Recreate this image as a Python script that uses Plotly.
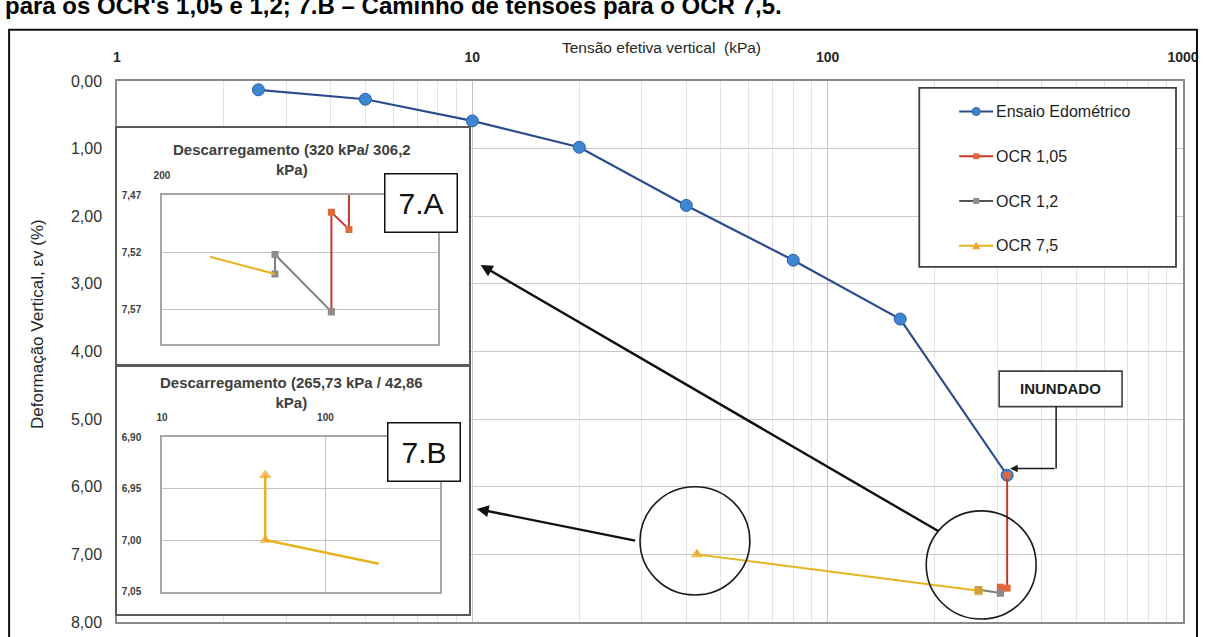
import plotly.graph_objects as go
import math

# ---------------- data ----------------
edo_x = [2.5, 5, 10, 20, 40, 80, 160, 320]
edo_y = [0.13, 0.27, 0.59, 0.98, 1.84, 2.65, 3.52, 5.83]

ocr105_x = [320, 320, 306.2, 306.2]
ocr105_y = [5.83, 7.50, 7.485, 7.572]

ocr12_x = [306.2, 265.73, 265.73]
ocr12_y = [7.572, 7.522, 7.539]

ocr75_x = [265.73, 42.86, 42.86]
ocr75_y = [7.539, 7.00, 6.937]

# detail 7.A (unloading 320 -> 306,2 kPa), OCR 7,5 branch
detA_ocr75_x = [265.73, 225.7]
detA_ocr75_y = [7.539, 7.524]

# detail 7.B (unloading 265,73 -> 42,86 kPa)
detB_ocr75_x = [212, 42.86, 42.86]
detB_ocr75_y = [7.023, 7.00, 6.937]

main_xticks = [1, 10, 100, 1000]
main_xticktext = ["1", "10", "100", "1000"]
main_yticks = [0, 1, 2, 3, 4, 5, 6, 7, 8]
main_yticktext = ["0,00", "1,00", "2,00", "3,00", "4,00", "5,00", "6,00", "7,00", "8,00"]
minor_x = [m * d for d in (1, 10, 100) for m in range(2, 10)]

detA_xticks = [200]
detA_xticktext = ["200"]
detA_yticks = [7.47, 7.52, 7.57]
detA_yticktext = ["7,47", "7,52", "7,57"]

detB_xticks = [10, 100]
detB_xticktext = ["10", "100"]
detB_yticks = [6.90, 6.95, 7.00, 7.05]
detB_yticktext = ["6,90", "6,95", "7,00", "7,05"]

series_names = ["Ensaio Edométrico", "OCR 1,05", "OCR 1,2", "OCR 7,5"]

# ---------------- styling ----------------
FONT = "Liberation Sans, Arial, sans-serif"
C_BLUE_LINE = "#2B4D8E"
C_BLUE_MK = "#3E86D2"
C_RED = "#C33A2A"
C_RED_MK = "#E2673B"
C_GRAY = "#7F7F7F"
C_GRAY_MK = "#8C8C8C"
C_YEL = "#E6B420"
C_YEL_MK = "#F0A22C"

W, H = 1205, 637
PL, PR, PT, PB = 117, 1184, 81, 631   # main plot area in pixels


def fx(px):
    return (px - PL) / (PR - PL)


def fy(py):
    return (PB - py) / (PB - PT)


def label(px, py, text, size, color="#262626", bold=False, xanchor="center", **extra):
    font = dict(family=FONT, size=size, color=color)
    if bold:
        font["weight"] = "bold"
    d = dict(xref="paper", yref="paper", x=fx(px), y=fy(py), text=text, showarrow=False,
             xanchor=xanchor, yanchor="middle", font=font)
    d.update(extra)
    return d


fig = go.Figure()

# ---- main chart series ----
fig.add_trace(go.Scatter(
    x=edo_x, y=edo_y, mode="lines+markers", name=series_names[0],
    line=dict(color=C_BLUE_LINE, width=2.2),
    marker=dict(symbol="circle", size=12, color=C_BLUE_MK, line=dict(color="#2A62A8", width=1)),
    xaxis="x", yaxis="y", showlegend=False))
fig.add_trace(go.Scatter(
    x=ocr105_x, y=ocr105_y, mode="lines+markers", name=series_names[1],
    line=dict(color=C_RED, width=2),
    marker=dict(symbol="square", size=7, color=C_RED_MK),
    xaxis="x", yaxis="y", showlegend=False))
fig.add_trace(go.Scatter(
    x=ocr12_x, y=ocr12_y, mode="lines+markers", name=series_names[2],
    line=dict(color=C_GRAY, width=2),
    marker=dict(symbol="square", size=7, color=C_GRAY_MK),
    xaxis="x", yaxis="y", showlegend=False))
fig.add_trace(go.Scatter(
    x=ocr75_x, y=ocr75_y, mode="lines+markers", name=series_names[3],
    line=dict(color=C_YEL, width=2),
    marker=dict(symbol=["square", "triangle-up", "triangle-up"], size=[8, 10, 0], color=C_YEL_MK),
    xaxis="x", yaxis="y", showlegend=False))

# ---- empty framing subplots (white boxes behind the details) ----
fig.add_trace(go.Scatter(x=[], y=[], xaxis="x2", yaxis="y2", showlegend=False))
fig.add_trace(go.Scatter(x=[], y=[], xaxis="x3", yaxis="y3", showlegend=False))

# ---- detail 7.A ----
fig.add_trace(go.Scatter(
    x=ocr105_x, y=ocr105_y, mode="lines+markers",
    line=dict(color=C_RED, width=2),
    marker=dict(symbol="square", size=7, color=C_RED_MK),
    xaxis="x4", yaxis="y4", showlegend=False))
fig.add_trace(go.Scatter(
    x=ocr12_x, y=ocr12_y, mode="lines+markers",
    line=dict(color=C_GRAY, width=2),
    marker=dict(symbol="square", size=7, color=C_GRAY_MK),
    xaxis="x4", yaxis="y4", showlegend=False))
fig.add_trace(go.Scatter(
    x=detA_ocr75_x, y=detA_ocr75_y, mode="lines",
    line=dict(color=C_YEL, width=2),
    xaxis="x4", yaxis="y4", showlegend=False))

# ---- detail 7.B ----
fig.add_trace(go.Scatter(
    x=detB_ocr75_x, y=detB_ocr75_y, mode="lines+markers",
    line=dict(color=C_YEL, width=2.5),
    marker=dict(symbol="triangle-up", size=[0, 9, 10], color=C_YEL_MK),
    xaxis="x5", yaxis="y5", showlegend=False))

tick_font_small = dict(family=FONT, size=10, color="#404040", weight="bold")


def frame_axis(domain, anchor):
    return dict(domain=domain, anchor=anchor, range=[0, 1], showgrid=False, zeroline=False,
                showticklabels=False, ticks="", showline=True, mirror=True,
                linecolor="#5A5A5A", linewidth=2, fixedrange=True)


layout = dict(
    width=W, height=H,
    margin=dict(l=PL, r=W - PR, t=PT, b=H - PB, pad=0),
    paper_bgcolor="white", plot_bgcolor="white",
    showlegend=False,
    font=dict(family=FONT, color="#262626"),
    xaxis=dict(
        type="log", range=[0, 3], side="top", anchor="y", domain=[0, 1],
        tickmode="array", tickvals=main_xticks, ticktext=main_xticktext,
        tickfont=dict(family=FONT, size=14, color="#262626", weight="bold"),
        ticks="outside", ticklen=12, tickcolor="rgba(0,0,0,0)",
        showgrid=True, gridcolor="#C4C4C4", gridwidth=1,
        minor=dict(tickmode="array", tickvals=minor_x, showgrid=True,
                   gridcolor="#E4E4E4", gridwidth=1, ticks=""),
        showline=True, mirror=True, linecolor="#8A8A8A", linewidth=1.5, zeroline=False,
    ),
    yaxis=dict(
        range=[8, 0], anchor="x", domain=[0, 1],
        tickmode="array", tickvals=main_yticks, ticktext=main_yticktext,
        tickfont=dict(family=FONT, size=16, color="#333333"),
        ticks="outside", ticklen=10, tickcolor="rgba(0,0,0,0)",
        showgrid=True, gridcolor="#C8C8C8", gridwidth=1.2,
        showline=True, mirror=True, linecolor="#8A8A8A", linewidth=1.5, zeroline=False,
    ),
    # frames
    xaxis2=frame_axis([fx(117), fx(469)], "y2"),
    yaxis2=frame_axis([fy(369), fy(129)], "x2"),
    xaxis3=frame_axis([fx(117), fx(469)], "y3"),
    yaxis3=frame_axis([fy(623), fy(372)], "x3"),
    # detail 7.A
    xaxis4=dict(
        type="log", range=[math.log10(200), math.log10(400)], side="top", anchor="y4",
        domain=[fx(162), fx(438)],
        tickmode="array", tickvals=detA_xticks, ticktext=detA_xticktext, tickfont=tick_font_small,
        ticks="outside", ticklen=10, tickcolor="rgba(0,0,0,0)",
        showgrid=False, zeroline=False,
        showline=True, mirror=True, linecolor="#A6A6A6", linewidth=1.5,
    ),
    yaxis4=dict(
        range=[7.60, 7.47], anchor="x4", domain=[fy(348), fy(197)],
        tickmode="array", tickvals=detA_yticks, ticktext=detA_yticktext, tickfont=tick_font_small,
        ticks="outside", ticklen=17, tickcolor="rgba(0,0,0,0)",
        showgrid=True, gridcolor="#C4C4C4", zeroline=False,
        showline=True, mirror=True, linecolor="#A6A6A6", linewidth=1.5,
    ),
    # detail 7.B
    xaxis5=dict(
        type="log", range=[1, math.log10(500)], side="top", anchor="y5",
        domain=[fx(162), fx(440)],
        tickmode="array", tickvals=detB_xticks, ticktext=detB_xticktext, tickfont=tick_font_small,
        ticks="outside", ticklen=10, tickcolor="rgba(0,0,0,0)",
        showgrid=True, gridcolor="#C4C4C4", zeroline=False,
        showline=True, mirror=True, linecolor="#A6A6A6", linewidth=1.5,
    ),
    yaxis5=dict(
        range=[7.05, 6.90], anchor="x5", domain=[fy(600), fy(443)],
        tickmode="array", tickvals=detB_yticks, ticktext=detB_yticktext, tickfont=tick_font_small,
        ticks="outside", ticklen=17, tickcolor="rgba(0,0,0,0)",
        showgrid=True, gridcolor="#C4C4C4", zeroline=False,
        showline=True, mirror=True, linecolor="#A6A6A6", linewidth=1.5,
    ),
)
fig.update_layout(**layout)

shapes = []
annotations = []

# outer frame of the figure
shapes.append(dict(type="rect", xref="paper", yref="paper",
                   x0=fx(9), x1=fx(1198), y0=fy(648), y1=fy(29),
                   line=dict(color="#111111", width=2), layer="above"))

# ---- legend box ----
shapes.append(dict(type="rect", xref="paper", yref="paper",
                   x0=fx(920), x1=fx(1177), y0=fy(270), y1=fy(88),
                   line=dict(color="#404040", width=1.8), fillcolor="white", layer="above"))
leg_line_colors = [C_BLUE_LINE, C_RED, "#555555", C_YEL]
leg_mk_colors = [C_BLUE_MK, C_RED_MK, C_GRAY_MK, C_YEL_MK]
for i, name in enumerate(series_names):
    yc = 112 + 45.5 * i
    shapes.append(dict(type="line", xref="paper", yref="paper",
                       x0=fx(960), x1=fx(994), y0=fy(yc), y1=fy(yc),
                       line=dict(color=leg_line_colors[i], width=2), layer="above"))
    if i == 0:
        shapes.append(dict(type="circle", xref="paper", yref="paper",
                           x0=fx(973), x1=fx(981), y0=fy(yc + 4), y1=fy(yc - 4),
                           line=dict(color="#2A62A8", width=1), fillcolor=leg_mk_colors[i], layer="above"))
    elif i in (1, 2):
        shapes.append(dict(type="rect", xref="paper", yref="paper",
                           x0=fx(974), x1=fx(980), y0=fy(yc + 3), y1=fy(yc - 3),
                           line=dict(width=0), fillcolor=leg_mk_colors[i], layer="above"))
    else:
        path = "M {} {} L {} {} L {} {} Z".format(fx(973), fy(yc + 3.5), fx(981), fy(yc + 3.5),
                                                 fx(977), fy(yc - 4))
        shapes.append(dict(type="path", xref="paper", yref="paper", path=path,
                           line=dict(width=0), fillcolor=leg_mk_colors[i], layer="above"))
    annotations.append(label(995, yc, name, 16, color="#1E1E1E", xanchor="left"))

# ---- highlight circles ----
for cx, cy in [(982, 573), (695.5, 548.5)]:
    shapes.append(dict(type="circle", xref="paper", yref="paper",
                       x0=fx(cx - 55), x1=fx(cx + 55), y0=fy(cy + 55), y1=fy(cy - 55),
                       line=dict(color="#1A1A1A", width=1.6), layer="above"))

# ---- INUNDADO callout ----
shapes.append(dict(type="rect", xref="paper", yref="paper",
                   x0=fx(1000), x1=fx(1123), y0=fy(412), y1=fy(376),
                   line=dict(color="#404040", width=1.6), fillcolor="white", layer="above"))
shapes.append(dict(type="line", xref="paper", yref="paper",
                   x0=fx(1057), x1=fx(1057), y0=fy(412), y1=fy(475),
                   line=dict(color="#1A1A1A", width=1.5), layer="above"))
annotations.append(label(1061.5, 394, "INUNDADO", 15, color="#1E1E1E", bold=True))
annotations.append(dict(xref="paper", yref="paper", x=fx(1011), y=fy(475),
                        ax=46, ay=0, axref="pixel", ayref="pixel", text="",
                        showarrow=True, arrowhead=2, arrowsize=1, arrowwidth=1.5,
                        arrowcolor="#1A1A1A", standoff=0))

# ---- pointer arrows to the details ----
annotations.append(dict(xref="paper", yref="paper", x=fx(481), y=fy(268),
                        ax=940 - 481, ay=535 - 268, text="", showarrow=True,
                        arrowhead=2, arrowsize=1, arrowwidth=2.4, arrowcolor="#111111", standoff=0))
annotations.append(dict(xref="paper", yref="paper", x=fx(477), y=fy(516),
                        ax=637 - 477, ay=548 - 516, text="", showarrow=True,
                        arrowhead=2, arrowsize=1, arrowwidth=2.4, arrowcolor="#111111", standoff=0))

# ---- detail titles and labels ----
annotations.append(label(292, 161, "Descarregamento (320 kPa/ 306,2<br>kPa)", 15,
                         color="#404040", bold=True))
annotations.append(label(292, 398, "Descarregamento (265,73 kPa / 42,86<br>kPa)", 15,
                         color="#404040", bold=True))
for txt, cx, cy in [("7.A", 421.5, 205), ("7.B", 424, 458.5)]:
    annotations.append(label(cx, cy, txt, 30, color="#111111",
                             width=69, height=55, borderpad=1,
                             bordercolor="#111111", borderwidth=1.5, bgcolor="white"))

# ---- axis titles ----
annotations.append(label(662, 47, "Tensão efetiva vertical  (kPa)", 15.5))
annotations.append(label(38, 328, "Deformação Vertical, εv (%)", 17, textangle=-90))

# ---- caption line running off the top edge ----
annotations.append(label(3, 4, "para os OCR's 1,05 e 1,2; 7.B – Caminho de tensões para o OCR 7,5.",
                         24, color="#000000", bold=True, xanchor="left"))

fig.update_layout(shapes=shapes, annotations=annotations)

fig.write_html("out.html")
